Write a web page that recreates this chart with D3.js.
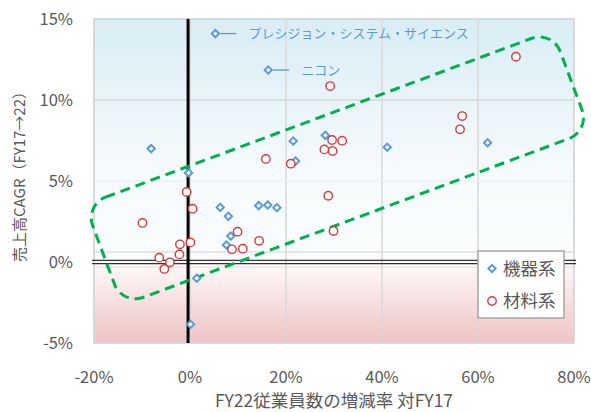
<!DOCTYPE html>
<html>
<head>
<meta charset="utf-8">
<script src="https://cdn.jsdelivr.net/npm/d3@7/dist/d3.min.js"></script>
<style>
  html, body { margin: 0; padding: 0; background: #fff; }
  svg { display: block; }
  text { font-family: "Noto Sans CJK JP", "Noto Sans", sans-serif; }
</style>
</head>
<body>
<svg id="chart" width="591" height="412"></svg>
<script>
// 機器系: [従業員数の増減率 %, 売上高CAGR %]
const kikiX = [5.3, 16.3, -8.1, -0.3, 6.3, 8.0, 14.3, 16.2, 18.1, 8.5, 7.6, 1.4, 0.1, 21.5, 22.0, 28.2, 41.1, 62.0];
const kikiY = [14.1, 11.85, 7.0, 5.5, 3.37, 2.82, 3.48, 3.52, 3.35, 1.6, 1.05, -1.0, -3.85, 7.47, 6.23, 7.82, 7.08, 7.36];

// 材料系
const zairyoX = [29.2, 67.9, 56.7, 56.25, 29.6, 31.7, 28.0, 29.7, 15.8, 21.0, 28.8, 29.9, 9.9, 14.4, 8.75, 11.0, -0.7, 0.55, -9.9, 0.07, -2.1, -2.2, -6.4, -4.2, -5.35];
const zairyoY = [10.86, 12.67, 9.01, 8.19, 7.53, 7.49, 6.95, 6.85, 6.36, 6.07, 4.09, 1.91, 1.87, 1.31, 0.78, 0.82, 4.32, 3.29, 2.41, 1.21, 1.09, 0.47, 0.27, -0.02, -0.43];

// 個別に名前を表示する企業 (機器系の点の番号)
const callouts = [
  { idx: 0, name: "プレシジョン・システム・サイエンス" },
  { idx: 1, name: "ニコン" }
];

const xTicks = [-20, 0, 20, 40, 60, 80];
const yTicks = [-5, 0, 5, 10, 15];
const seriesNames = ["機器系", "材料系"];

// 成長企業のグループを囲む枠 (両端の中心点, データ座標)
const groupEnds = [[-18.0, 0.43], [79.4, 11.19]];
const dividerX = -0.4;

const svg = d3.select("#chart");
const pL = 94, pR = 574, pT = 19, pB = 343;
const x = d3.scaleLinear().domain([-20, 80]).range([pL, pR]);
const y = d3.scaleLinear().domain([-5, 15]).range([pB, pT]);

const defs = svg.append("defs");
const gBlue = defs.append("linearGradient").attr("id", "bgPlus").attr("x1", 0).attr("y1", 0).attr("x2", 0).attr("y2", 1);
gBlue.append("stop").attr("offset", "0%").attr("stop-color", "#d9edf5");
gBlue.append("stop").attr("offset", "60%").attr("stop-color", "#f5fafc");
gBlue.append("stop").attr("offset", "100%").attr("stop-color", "#fbfdfe");
const gPink = defs.append("linearGradient").attr("id", "bgMinus").attr("x1", 0).attr("y1", 0).attr("x2", 0).attr("y2", 1);
gPink.append("stop").attr("offset", "0%").attr("stop-color", "#fffafa");
gPink.append("stop").attr("offset", "100%").attr("stop-color", "#efc3c3");

// 背景: プラス成長は青, マイナスは赤
svg.append("rect").attr("x", pL).attr("y", pT).attr("width", pR - pL).attr("height", y(0) - pT).attr("fill", "url(#bgPlus)");
svg.append("rect").attr("x", pL).attr("y", y(0)).attr("width", pR - pL).attr("height", pB - y(0)).attr("fill", "url(#bgMinus)");

// グリッド線
svg.append("g").selectAll("line").data(xTicks.filter(t => t !== -20 && t !== 80)).join("line")
  .attr("x1", d => x(d)).attr("x2", d => x(d)).attr("y1", pT).attr("y2", pB)
  .attr("stroke", "#d9d9d9").attr("stroke-width", 1.5);
svg.append("line").attr("x1", pL).attr("x2", pR).attr("y1", y(10)).attr("y2", y(10))
  .attr("stroke", "#d9d9d9").attr("stroke-width", 1.5);
svg.append("line").attr("x1", pL).attr("x2", pR).attr("y1", y(5)).attr("y2", y(5))
  .attr("stroke", "#edf1f3").attr("stroke-width", 1.5);
// 0% の帯
svg.append("line").attr("x1", pL).attr("x2", pR).attr("y1", y(0) - 10).attr("y2", y(0) - 10)
  .attr("stroke", "#cfcfcf").attr("stroke-width", 1.2);
svg.append("line").attr("x1", pL).attr("x2", pR).attr("y1", y(0) + 5).attr("y2", y(0) + 5)
  .attr("stroke", "#e0e0e0").attr("stroke-width", 1.2);

// 枠
svg.append("rect").attr("x", pL).attr("y", pT).attr("width", pR - pL).attr("height", pB - pT)
  .attr("fill", "none").attr("stroke", "#d6d6d6").attr("stroke-width", 1.8);

// 0% の二重線
[-1.6, 1.6].forEach(o => {
  svg.append("line").attr("x1", pL - 2).attr("x2", pR + 2).attr("y1", y(0) + o).attr("y2", y(0) + o)
    .attr("stroke", "#333").attr("stroke-width", 1.2);
});
// 縦の区切り線
svg.append("line").attr("x1", x(dividerX)).attr("x2", x(dividerX)).attr("y1", pT).attr("y2", pB)
  .attr("stroke", "#000").attr("stroke-width", 3);

// 目盛りラベル
svg.append("g").selectAll("text").data(yTicks).join("text")
  .attr("x", 73).attr("y", d => y(d)).attr("dy", "0.36em").attr("text-anchor", "end")
  .attr("font-size", 16.5).attr("fill", "#595959").text(d => d + "%");
svg.append("g").selectAll("text").data(xTicks).join("text")
  .attr("x", d => x(d)).attr("y", 377).attr("dy", "0.36em").attr("text-anchor", "middle")
  .attr("font-size", 16.5).attr("fill", "#595959").text(d => d + "%");

// 軸タイトル
svg.append("text").attr("x", 334).attr("y", 401).attr("dy", "0.36em").attr("text-anchor", "middle")
  .attr("font-size", 17.5).attr("fill", "#595959").text("FY22従業員数の増減率 対FY17");
svg.append("text").attr("transform", "translate(20,173) rotate(-90)").attr("dy", "0.36em").attr("text-anchor", "middle")
  .attr("font-size", 15).attr("fill", "#595959").text("売上高CAGR（FY17→22）");

// グループ枠 (回転した角丸長方形)
{
  const [a, b] = groupEnds.map(p => [x(p[0]), y(p[1])]);
  const len = Math.hypot(b[0] - a[0], b[1] - a[1]);
  const ang = Math.atan2(b[1] - a[1], b[0] - a[0]) * 180 / Math.PI;
  const h = 107;
  svg.append("rect")
    .attr("transform", `translate(${a[0]},${a[1]}) rotate(${ang})`)
    .attr("x", 0).attr("y", -h / 2).attr("width", len).attr("height", h)
    .attr("rx", 22).attr("ry", 22)
    .attr("fill", "none").attr("stroke", "#00b050").attr("stroke-width", 3)
    .attr("stroke-dasharray", "10 6");
}

const diamond = d3.symbol().type(d3.symbolDiamond2).size(34);
const kiki = kikiX.map((v, i) => [v, kikiY[i]]);
const zairyo = zairyoX.map((v, i) => [v, zairyoY[i]]);

svg.append("g").selectAll("path").data(kiki).join("path")
  .attr("transform", d => `translate(${x(d[0])},${y(d[1])})`)
  .attr("d", diamond).attr("fill", "#fff").attr("stroke", "#5b9bd5").attr("stroke-width", 2);
svg.append("g").selectAll("circle").data(zairyo).join("circle")
  .attr("cx", d => x(d[0])).attr("cy", d => y(d[1])).attr("r", 4.2)
  .attr("fill", "#fff").attr("stroke", "#d63a3a").attr("stroke-width", 1.4);

// 企業名の吹き出し
callouts.forEach(c => {
  const px = x(kiki[c.idx][0]), py = y(kiki[c.idx][1]);
  svg.append("line").attr("x1", px + 5).attr("x2", px + 21).attr("y1", py).attr("y2", py)
    .attr("stroke", "#5b9bd5").attr("stroke-width", 1.3);
  svg.append("text").attr("x", px + 33).attr("y", py).attr("dy", "0.36em")
    .attr("font-size", 13).attr("fill", "#5b9bd5").text(c.name);
});

// 凡例
const lg = svg.append("g").attr("transform", "translate(478,251)");
lg.append("rect").attr("width", 86).attr("height", 67).attr("fill", "#fff").attr("stroke", "#a6a6a6").attr("stroke-width", 1.5);
lg.append("path").attr("transform", "translate(14,17.5)").attr("d", diamond)
  .attr("fill", "#fff").attr("stroke", "#5b9bd5").attr("stroke-width", 2);
lg.append("circle").attr("cx", 14).attr("cy", 50).attr("r", 4.2)
  .attr("fill", "#fff").attr("stroke", "#d63a3a").attr("stroke-width", 1.4);
lg.selectAll("text").data(seriesNames).join("text")
  .attr("x", 25).attr("y", (d, i) => 17.5 + i * 32.5).attr("dy", "0.36em")
  .attr("font-size", 17.5).attr("fill", "#595959").text(d => d);
</script>
</body>
</html>
